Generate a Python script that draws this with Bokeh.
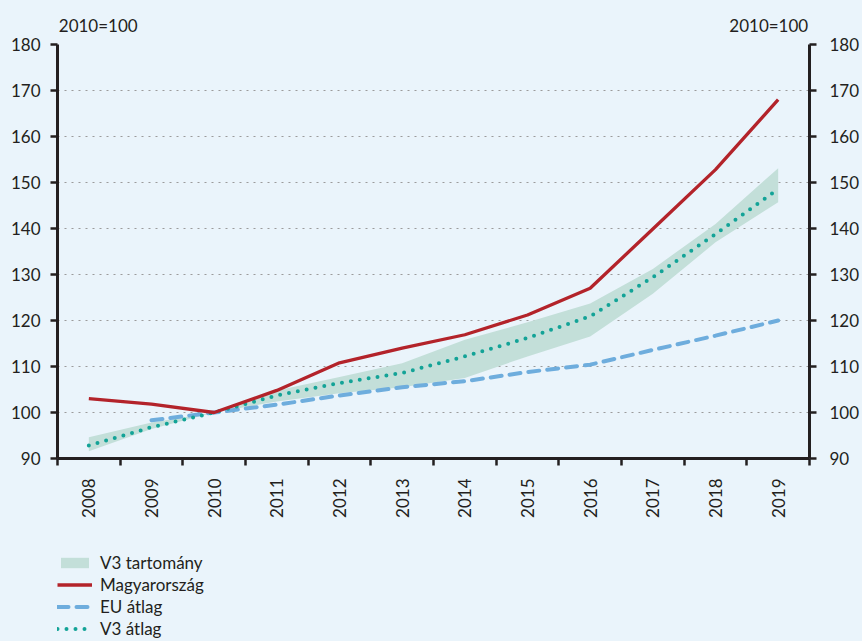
import math
from bokeh.plotting import figure
from bokeh.layouts import column
from bokeh.models import (LinearAxis, FixedTicker, Legend, LegendItem,
                          Range1d, ColumnDataSource)
from bokeh.embed import file_html
from bokeh.resources import INLINE

years = [2008, 2009, 2010, 2011, 2012, 2013, 2014, 2015, 2016, 2017, 2018, 2019]
year_labels = [str(y) for y in years]
hungary = [103.0, 101.8, 100.0, 104.8, 110.8, 114.0, 116.9, 121.2, 127.0, 139.9, 152.8, 168.0]
eu_years = [2009, 2010, 2011, 2012, 2013, 2014, 2015, 2016, 2017, 2018, 2019]
eu_avg = [98.3, 100.0, 101.7, 103.7, 105.5, 106.8, 108.8, 110.4, 113.6, 116.7, 120.0]
v3_avg = [92.8, 96.8, 100.0, 103.7, 106.4, 108.6, 112.2, 116.2, 120.9, 129.4, 138.8, 148.6]
v3_low = [91.6, 96.4, 100.0, 102.4, 104.2, 105.5, 107.5, 112.2, 116.5, 125.8, 137.0, 145.7]
v3_high = [94.6, 97.8, 100.0, 104.8, 107.7, 110.7, 115.8, 119.6, 123.7, 131.2, 141.0, 153.1]
y_ticks = [90, 100, 110, 120, 130, 140, 150, 160, 170, 180]
unit_label = "2010=100"
legend_labels = ["V3 tartomány", "Magyarország", "EU átlag", "V3 átlag"]

BG = "#EAF4FB"
TOPBAND = "#C4E6F6"
INK = "#231F20"
RED = "#B3232A"
BLUE = "#6EADDD"
TEAL = "#13A397"
BAND = "#C3DFD9"
FONT = "Lato"

BAND_STYLE = dict(fill_color=BAND, fill_alpha=1)
HU_STYLE = dict(line_color=RED, line_width=3.3)
EU_STYLE = dict(line_color=BLUE, line_width=4, line_dash="11 8", line_cap="round")
V3_STYLE = dict(line_color=TEAL, line_width=4, line_dash="0 9", line_cap="round")


def blank(fig, fill):
    fig.background_fill_color = fill
    fig.border_fill_color = fill
    fig.outline_line_color = None
    fig.grid.visible = False


# thin coloured strip along the top edge
strip = figure(width=862, height=5, output_backend="svg", toolbar_location=None,
               x_range=Range1d(0, 1), y_range=Range1d(0, 1),
               x_axis_location=None, y_axis_location=None,
               min_border_left=0, min_border_right=0, min_border_top=0,
               min_border_bottom=0)
blank(strip, TOPBAND)

src = ColumnDataSource(dict(x=years, hu=hungary, v3=v3_avg, lo=v3_low, hi=v3_high))
eu_src = ColumnDataSource(dict(x=eu_years, eu=eu_avg))

x_lo, x_hi = years[0] - 0.5, years[-1] + 0.5
p = figure(width=862, height=547, output_backend="svg", toolbar_location=None,
           x_range=Range1d(x_lo, x_hi),
           y_range=Range1d(y_ticks[0], y_ticks[-1]),
           min_border_left=57, min_border_right=53, min_border_top=39,
           min_border_bottom=94)
blank(p, BG)
p.ygrid.visible = True
p.ygrid.ticker = FixedTicker(ticks=y_ticks[1:])
p.ygrid.grid_line_color = "#9B9B9B"
p.ygrid.grid_line_dash = "2 5"
p.ygrid.grid_line_width = 1

p.varea(x="x", y1="lo", y2="hi", source=src, **BAND_STYLE)
p.line(x="x", y="eu", source=eu_src, **EU_STYLE)
p.line(x="x", y="v3", source=src, **V3_STYLE)
p.line(x="x", y="hu", source=src, **HU_STYLE)

# x axis: labels at category centres, tick marks at category boundaries
xa = p.xaxis[0]
xa.ticker = FixedTicker(ticks=years, minor_ticks=[y - 0.5 for y in years] + [x_hi])
xa.major_label_overrides = {y: s for y, s in zip(years, year_labels)}
xa.major_label_orientation = math.pi / 2
xa.major_tick_line_color = None
xa.major_tick_out = 0
xa.major_tick_in = 0
xa.major_label_standoff = 13
xa.minor_tick_line_color = INK
xa.minor_tick_line_width = 2.5
xa.minor_tick_out = 7
xa.minor_tick_in = 0

ya = p.yaxis[0]
ya.ticker = FixedTicker(ticks=y_ticks)
ya.minor_tick_line_color = None

yr = LinearAxis(ticker=FixedTicker(ticks=y_ticks))
yr.minor_tick_line_color = None
p.add_layout(yr, "right")

for ax in (xa, ya, yr):
    ax.axis_line_color = INK
    ax.axis_line_width = 3
    ax.major_label_text_font = FONT
    ax.major_label_text_font_size = "17px"
    ax.major_label_text_color = INK
for ax in (ya, yr):
    ax.major_tick_line_color = INK
    ax.major_tick_line_width = 2.5
    ax.major_tick_out = 7
    ax.major_tick_in = 0
ya.major_label_standoff = 10
yr.major_label_standoff = 13

# unit captions above both value axes
half_w = 0.65
u_left, u_right = x_lo + half_w, x_hi - half_w
ta = LinearAxis(ticker=FixedTicker(ticks=[u_left, u_right]),
                major_label_overrides={u_left: unit_label, u_right: unit_label})
ta.axis_line_color = None
ta.major_tick_line_color = None
ta.minor_tick_line_color = None
ta.major_tick_out = 0
ta.major_tick_in = 0
ta.major_label_standoff = 9
ta.major_label_text_font = FONT
ta.major_label_text_font_size = "17px"
ta.major_label_text_color = INK
p.add_layout(ta, "above")

# legend panel underneath (swatch renderers hold only NaN, so draw nothing)
lg = figure(width=862, height=89, output_backend="svg", toolbar_location=None,
            x_range=Range1d(0, 1), y_range=Range1d(0, 1),
            x_axis_location=None, y_axis_location=None,
            min_border_left=57, min_border_right=0, min_border_top=0,
            min_border_bottom=0)
blank(lg, BG)
nan = [math.nan]
r_band = lg.varea(x=nan, y1=nan, y2=nan, **BAND_STYLE)
r_hu = lg.line(x=nan, y=nan, **HU_STYLE)
r_eu = lg.line(x=nan, y=nan, **EU_STYLE)
r_v3 = lg.line(x=nan, y=nan, **V3_STYLE)
legend = Legend(items=[LegendItem(label=legend_labels[0], renderers=[r_band]),
                       LegendItem(label=legend_labels[1], renderers=[r_hu]),
                       LegendItem(label=legend_labels[2], renderers=[r_eu]),
                       LegendItem(label=legend_labels[3], renderers=[r_v3])],
                location="top_left", glyph_width=35, glyph_height=13,
                label_standoff=8, spacing=1, padding=0, margin=0,
                border_line_color=None, background_fill_alpha=0,
                label_text_font=FONT, label_text_font_size="17px",
                label_text_color=INK)
lg.add_layout(legend)

page = column(strip, p, lg, spacing=0, styles={"background-color": BG})
open("out.html", "w").write(file_html(page, INLINE))
